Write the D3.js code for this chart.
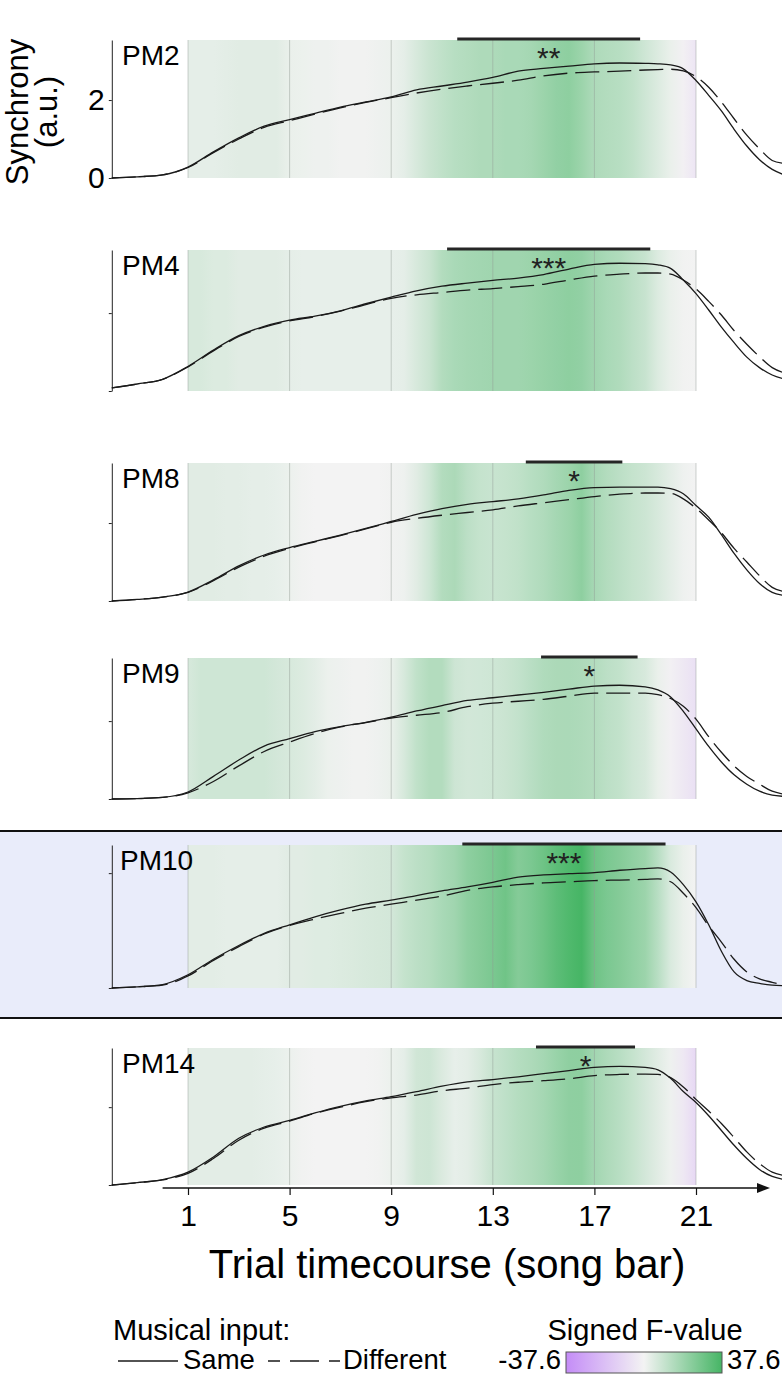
<!DOCTYPE html>
<html><head><meta charset="utf-8">
<script src="https://cdn.jsdelivr.net/npm/d3@7"></script>
<style>
body{margin:0;background:#fff;overflow:hidden;}
svg{display:block;font-family:"Liberation Sans",Arial,Helvetica,sans-serif;}
</style>
</head><body>
<svg id="chart" width="782" height="1376"></svg>
<script>
// ---------------- DATA ----------------
const panelNames = ["PM2","PM4","PM8","PM9","PM10","PM14"];
const highlightedPanel = "PM10";
const sigLabels = ["**","***","*","*","***","*"];
const sigStart = [11.6, 11.2, 14.3, 14.9, 11.8, 14.7];
const sigEnd   = [18.8, 19.2, 18.1, 18.7, 19.8, 18.6];
const yTickValues = [0, 2];
const xTickValues = [1, 5, 9, 13, 17, 21];
const gridBars = [1, 5, 9, 13, 17, 21];
const fRange = [-37.6, 37.6];

// curve sample positions (song bar)
const curveBars = [-2,-1,0,1,2,3,4,5,6,7,8,9,10,11,12,13,14,15,16,17,18,19,19.5,20,20.5,21,21.5,22,22.5,23,23.5,24,24.4];

const samePM2 = [0.0,0.03,0.08,0.28,0.67,1.03,1.33,1.5,1.66,1.82,1.95,2.08,2.26,2.36,2.46,2.58,2.74,2.81,2.87,2.93,2.95,2.94,2.93,2.9,2.8,2.5,2.12,1.72,1.25,0.82,0.47,0.22,0.1];
const diffPM2 = [0.0,0.03,0.08,0.27,0.65,1.0,1.3,1.47,1.64,1.8,1.94,2.06,2.18,2.28,2.36,2.43,2.51,2.62,2.69,2.72,2.74,2.77,2.78,2.79,2.75,2.6,2.33,1.95,1.52,1.1,0.75,0.45,0.38];
const samePM4 = [0.08,0.18,0.3,0.63,1.05,1.42,1.66,1.82,1.92,2.06,2.24,2.41,2.57,2.69,2.77,2.84,2.9,2.99,3.13,3.25,3.28,3.27,3.24,3.15,2.85,2.5,2.08,1.64,1.24,0.87,0.6,0.41,0.32];
const diffPM4 = [0.08,0.18,0.3,0.62,1.03,1.4,1.64,1.8,1.91,2.05,2.22,2.38,2.47,2.53,2.59,2.63,2.68,2.74,2.85,2.95,3.0,3.03,3.03,3.0,2.85,2.62,2.3,1.95,1.55,1.2,0.88,0.6,0.48];
const samePM8 = [0.0,0.04,0.1,0.23,0.54,0.9,1.18,1.37,1.53,1.69,1.86,2.04,2.22,2.37,2.48,2.55,2.62,2.72,2.84,2.91,2.92,2.92,2.92,2.88,2.75,2.45,2.15,1.7,1.22,0.8,0.45,0.22,0.15];
const diffPM8 = [0.0,0.04,0.1,0.22,0.52,0.87,1.15,1.35,1.52,1.68,1.85,2.02,2.12,2.2,2.27,2.34,2.44,2.52,2.6,2.68,2.74,2.77,2.77,2.76,2.62,2.38,2.08,1.75,1.35,1.0,0.65,0.35,0.25];
const samePM9 = [0.0,0.01,0.04,0.18,0.58,1.0,1.36,1.55,1.73,1.86,1.97,2.1,2.26,2.4,2.53,2.6,2.67,2.74,2.82,2.9,2.92,2.88,2.8,2.62,2.25,1.8,1.35,0.95,0.62,0.38,0.2,0.1,0.07];
const diffPM9 = [0.0,0.01,0.04,0.16,0.45,0.85,1.22,1.46,1.68,1.85,1.96,2.08,2.15,2.22,2.37,2.46,2.51,2.56,2.64,2.72,2.72,2.72,2.68,2.58,2.38,2.05,1.6,1.2,0.85,0.58,0.38,0.2,0.13];
const samePM10 = [0.0,0.02,0.06,0.23,0.5,0.74,0.95,1.1,1.24,1.36,1.46,1.53,1.61,1.69,1.76,1.84,1.93,1.97,1.99,2.01,2.05,2.08,2.09,2.02,1.8,1.5,1.1,0.64,0.28,0.13,0.08,0.05,0.04];
const diffPM10 = [0.0,0.02,0.05,0.21,0.48,0.72,0.94,1.09,1.2,1.3,1.39,1.46,1.53,1.6,1.7,1.76,1.8,1.83,1.85,1.87,1.88,1.89,1.9,1.85,1.65,1.4,1.08,0.8,0.5,0.28,0.16,0.1,0.06];
const samePM14 = [0.0,0.06,0.14,0.33,0.72,1.2,1.49,1.66,1.85,2.02,2.16,2.27,2.4,2.54,2.65,2.71,2.78,2.86,2.94,3.02,3.05,3.02,2.96,2.74,2.4,2.12,1.78,1.4,1.02,0.68,0.4,0.22,0.15];
const diffPM14 = [0.0,0.06,0.13,0.3,0.68,1.15,1.46,1.64,1.84,2.0,2.14,2.24,2.31,2.42,2.49,2.58,2.64,2.68,2.73,2.81,2.84,2.85,2.84,2.76,2.52,2.2,1.9,1.58,1.22,0.85,0.55,0.33,0.25];

// signed F-value samples, bars 1..21 in steps of 0.5
const fBars = d3.range(1, 21.001, 0.5);
const fPM2  = [3,3,3,3.5,4,4,4,4,2,1.5,1,1,0.5,0.5,0.5,1,1.5,3,6,9,11,13,14,15,15,16,16,17,19,21,22,19,15,14,13,11,8,5,2,-1,-5];
const fPM4  = [6,6,5,5,4,4,4,4,3,2.5,2.5,2.5,2.5,2.5,2.5,2.5,2.5,3,6,9,14,16,17,17.5,18,18,18,19,20,21,22,21,18,16,14.5,12,9.5,5,2,0.5,0];
const fPM8  = [4,4,4,3.5,3.5,3,3,2.5,1.5,0.5,0,0,0,0,0,0,0.5,1,4,8,14,15.5,12,10,9.3,10,11,13,14.6,17,19,22,16.5,14,12,10,8.5,6,3.5,1,0];
const fPM9  = [6,8,8,8,8,8,8,7,6,5,3.5,1.5,1,0.5,0.5,1,2,6,11,14,14,8.3,7.2,7.5,8,9,10.4,12.5,14.6,15.5,15.6,15,14,12,10.6,8,6,2,-1,-4,-7];
const fPM10 = [3.5,3.5,3.5,3,3,3,3,3,4,4,4.5,4.5,5,5.5,6,6.5,7,10,12,13.5,16,18,22,24,26,28.5,24,26,29,32.6,35.4,37.6,29,26,24,21.5,19,12.8,5.6,2,0];
const fPM14 = [3.5,3.5,3.5,3.5,3.5,3.5,3,2.5,1.5,0.5,0,0,0,0,0,0.5,1.5,3,7.6,8.3,5.2,2.5,3.5,6,9.6,11.5,13.5,15,17,19.5,21.7,22,17.6,15,12.8,10,7,4,1,-4,-10];

const sameSeries = [samePM2, samePM4, samePM8, samePM9, samePM10, samePM14];
const diffSeries = [diffPM2, diffPM4, diffPM8, diffPM9, diffPM10, diffPM14];
const fSeries = [fPM2, fPM4, fPM8, fPM9, fPM10, fPM14];
const yMaxes = [3.54, 3.62, 3.54, 3.62, 2.49, 3.52];

// ---------------- LAYOUT ----------------
const panelTop = [40, 250, 463, 658, 845, 1048];
const panelH   = [138, 141, 138, 141, 143, 137];
const FONT = "Liberation Sans, Arial, sans-serif";

const svg = d3.select("#chart");
const defs = svg.append("defs");
const x = d3.scaleLinear().domain([1, 21]).range([188, 696]);
const color = d3.scaleLinear().domain([fRange[0], 0, fRange[1]])
  .range(["#c48cf7", "#f3f3f3", "#46b565"]);

// highlight band for PM10
svg.append("rect").attr("x", 0).attr("y", 831).attr("width", 782).attr("height", 187)
  .attr("fill", "#e9ecfa");
[831, 1018].forEach(yy => svg.append("line").attr("x1", 0).attr("x2", 782)
  .attr("y1", yy).attr("y2", yy).attr("stroke", "#111").attr("stroke-width", 2));

const lineGen = (ys) => d3.line()
  .x((d, i) => x(curveBars[i]))
  .y(d => ys(d))
  .curve(d3.curveMonotoneX);

panelNames.forEach((name, i) => {
  const top = panelTop[i], h = panelH[i];
  const y = d3.scaleLinear().domain([0, yMaxes[i]]).range([top + h, top]);
  const g = svg.append("g");

  // heatmap gradient built from the F-value samples
  const gid = "hm" + i;
  const grad = defs.append("linearGradient").attr("id", gid)
    .attr("gradientUnits", "userSpaceOnUse")
    .attr("x1", x(1)).attr("x2", x(21)).attr("y1", 0).attr("y2", 0);
  fBars.forEach((b, j) => {
    grad.append("stop")
      .attr("offset", (x(b) - x(1)) / (x(21) - x(1)))
      .attr("stop-color", color(fSeries[i][j]));
  });
  g.append("rect").attr("x", x(1)).attr("y", top)
    .attr("width", x(21) - x(1)).attr("height", h)
    .attr("fill", `url(#${gid})`);

  // grid lines
  g.selectAll(".grid").data(gridBars).enter().append("line")
    .attr("x1", d => x(d)).attr("x2", d => x(d))
    .attr("y1", top).attr("y2", top + h)
    .attr("stroke", "#8f9a92").attr("stroke-opacity", 0.45).attr("stroke-width", 1);

  // y axis
  const axis = d3.axisLeft(y).tickValues(yTickValues).tickSize(3).tickSizeOuter(0).tickPadding(4)
    .tickFormat(i === 0 ? d3.format("d") : () => "");
  const ag = g.append("g").attr("transform", `translate(${x(-2)},0)`).call(axis);
  ag.select(".domain").attr("stroke", "#222").attr("stroke-width", 1);
  ag.selectAll(".tick line").attr("stroke", "#222");
  ag.selectAll(".tick text").attr("font-size", 30).attr("fill", "#000").attr("font-family", FONT);

  // curves
  g.append("path").attr("d", lineGen(y)(diffSeries[i]))
    .attr("fill", "none").attr("stroke", "#1a1a1a").attr("stroke-width", 1.3)
    .attr("stroke-dasharray", "24,8");
  g.append("path").attr("d", lineGen(y)(sameSeries[i]))
    .attr("fill", "none").attr("stroke", "#1a1a1a").attr("stroke-width", 1.3);

  // significance bar and stars
  g.append("line").attr("x1", x(sigStart[i])).attr("x2", x(sigEnd[i]))
    .attr("y1", top - 1).attr("y2", top - 1)
    .attr("stroke", "#262626").attr("stroke-width", 3);
  g.append("text").attr("x", (x(sigStart[i]) + x(sigEnd[i])) / 2).attr("y", top + 28)
    .attr("text-anchor", "middle").attr("font-size", 30).attr("fill", "#222")
    .text(sigLabels[i]);

  // panel label
  g.append("text").attr("x", name === "PM10" ? 120 : 122).attr("y", top + 25)
    .attr("font-size", 28).attr("fill", "#000").text(name);
});

// y-axis label
const yl = svg.append("text").attr("transform", "translate(28,112) rotate(-90)")
  .attr("text-anchor", "middle").attr("font-size", 31).attr("fill", "#000");
yl.append("tspan").attr("x", 0).attr("y", 0).text("Synchrony");
yl.append("tspan").attr("x", 0).attr("y", 29).text("(a.u.)");

// x axis
const xAxisY = 1188;
svg.append("line").attr("x1", x(0)).attr("x2", 762).attr("y1", xAxisY).attr("y2", xAxisY)
  .attr("stroke", "#111").attr("stroke-width", 1.3);
svg.append("path").attr("d", `M757,${xAxisY - 5}L770,${xAxisY}L757,${xAxisY + 5}Z`).attr("fill", "#111");
const xa = svg.append("g").attr("transform", `translate(0,${xAxisY})`)
  .call(d3.axisBottom(x).tickValues(xTickValues).tickSize(7).tickSizeOuter(0).tickPadding(10).tickFormat(d3.format("d")));
xa.select(".domain").remove();
xa.selectAll(".tick line").attr("stroke", "#111").attr("stroke-width", 1.2);
xa.selectAll(".tick text").attr("font-size", 30).attr("fill", "#000").attr("font-family", FONT);

svg.append("text").attr("x", 447).attr("y", 1278).attr("text-anchor", "middle")
  .attr("font-size", 40).attr("fill", "#000").text("Trial timecourse (song bar)");

// legend: line styles
svg.append("text").attr("x", 113).attr("y", 1340).attr("font-size", 29).attr("fill", "#000").text("Musical input:");
svg.append("line").attr("x1", 118).attr("x2", 178).attr("y1", 1361).attr("y2", 1361)
  .attr("stroke", "#1a1a1a").attr("stroke-width", 1.3);
svg.append("text").attr("x", 183).attr("y", 1369).attr("font-size", 27.5).attr("fill", "#000").text("Same");
svg.append("line").attr("x1", 268).attr("x2", 340).attr("y1", 1361).attr("y2", 1361)
  .attr("stroke", "#1a1a1a").attr("stroke-width", 1.3)
  .attr("stroke-dasharray", "29,10").attr("stroke-dashoffset", 17);
svg.append("text").attr("x", 343).attr("y", 1369).attr("font-size", 27.5).attr("fill", "#000").text("Different");

// legend: colour bar
svg.append("text").attr("x", 645).attr("y", 1340).attr("text-anchor", "middle")
  .attr("font-size", 29).attr("fill", "#000").text("Signed F-value");
const cb = defs.append("linearGradient").attr("id", "cbar");
[fRange[0], 0, fRange[1]].forEach(v => cb.append("stop")
  .attr("offset", (v - fRange[0]) / (fRange[1] - fRange[0])).attr("stop-color", color(v)));
svg.append("rect").attr("x", 566).attr("y", 1352).attr("width", 156).attr("height", 21)
  .attr("fill", "url(#cbar)").attr("stroke", "#555").attr("stroke-width", 1);
svg.append("text").attr("x", 561).attr("y", 1369).attr("text-anchor", "end")
  .attr("font-size", 27.5).attr("fill", "#000").text(fRange[0].toFixed(1));
svg.append("text").attr("x", 727).attr("y", 1369)
  .attr("font-size", 27.5).attr("fill", "#000").text(fRange[1].toFixed(1));
</script>
</body></html>
